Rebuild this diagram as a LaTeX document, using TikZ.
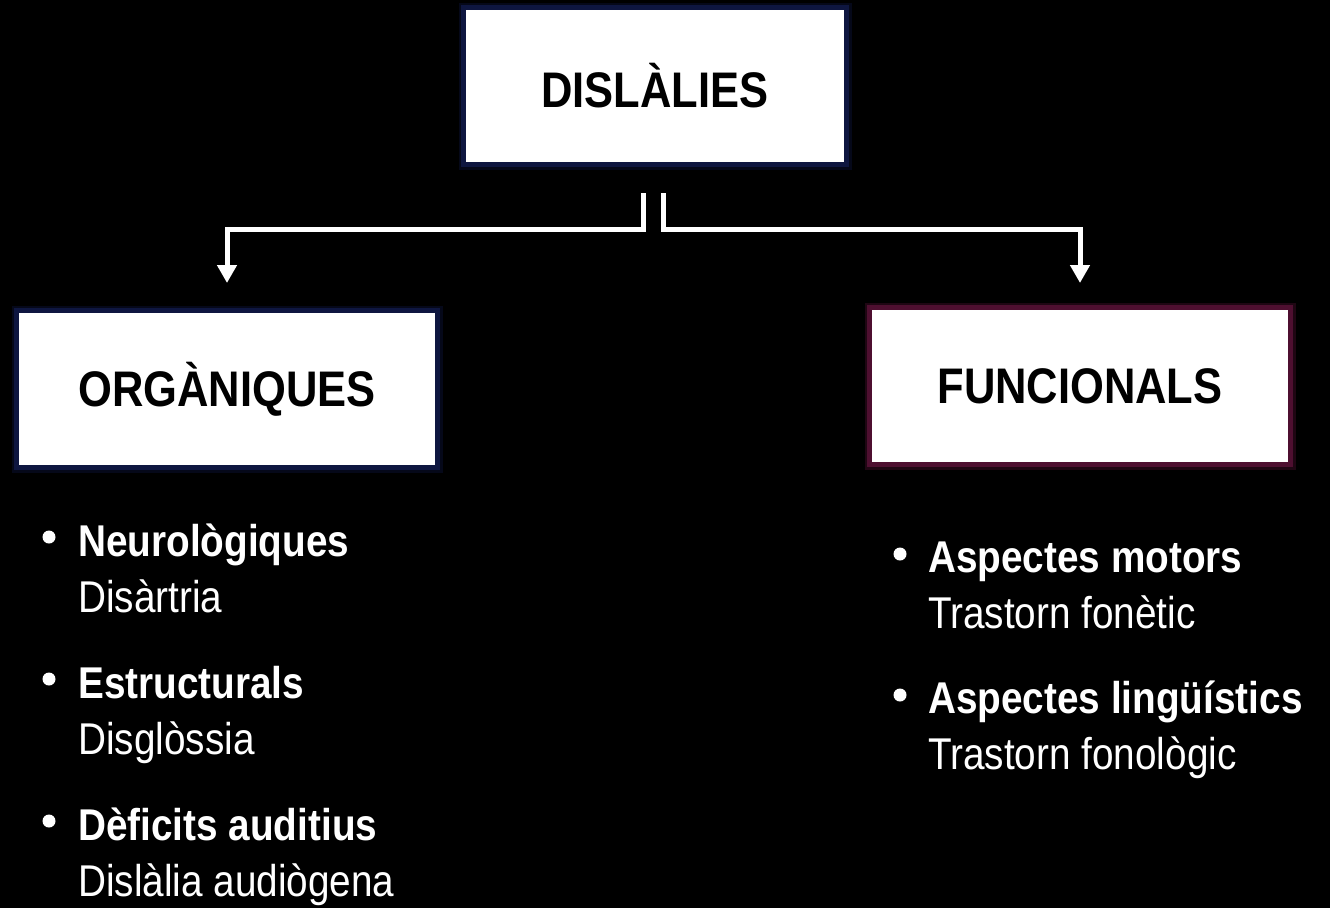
\documentclass[tikz,border=0pt]{standalone}
\usepackage{fontspec}
\setmainfont{Liberation Sans}[FakeStretch=0.87]
\usepackage{tikz}
\usetikzlibrary{positioning}
\usetikzlibrary{arrows.meta}
\definecolor{navyline}{HTML}{0E1640}
\definecolor{wineline}{HTML}{4E0F30}

\begin{document}
\begin{tikzpicture}[x=1pt, y=-1pt,
    box/.style={rectangle, fill=white, line width=5pt, outer sep=0pt, minimum width=421pt, minimum height=157pt, text=black, font=\fontsize{50}{60}\selectfont\bfseries},
    item/.style={align=left, inner sep=0pt, text=white, font=\fontsize{44.5}{56}\selectfont},
    dot/.style={circle, fill=white, inner sep=0pt, minimum size=13pt},
    link/.style={draw=white, line width=5pt, -{Triangle[width=19pt,length=18pt]}}]
    \fill[black] (0,0) rectangle (1330,908);
    % caixes
    \node[box, draw=navyline, minimum width=383pt, preaction={draw=navyline, line width=10pt, opacity=0.4}] (dislalies) at (655,86) {DISLÀLIES};
    \node[box, draw=navyline, preaction={draw=navyline, line width=10pt, opacity=0.4}] (organiques) at (227,389) {ORGÀNIQUES};
    \node[box, draw=wineline, preaction={draw=wineline, line width=10pt, opacity=0.4}] (funcionals) at (1080,386) {FUNCIONALS};
    \draw[link] ([xshift=-12pt,yshift=-28.5pt]dislalies.south) -- ++(0,36) -| ([yshift=27.5pt]organiques.north);
    \draw[link] ([xshift=8pt,yshift=-28.5pt]dislalies.south) -- ++(0,36) -| ([yshift=24.5pt]funcionals.north);
    % llista esquerra
    \node[item, anchor=base west] (neuro) at (78,612) {\textbf{Neurològiques}\\Disàrtria};
    \node[item, below=142pt of neuro.base west, anchor=base west] (estruct) {\textbf{Estructurals}\\Disglòssia};
    \node[item, below=142pt of estruct.base west, anchor=base west] (deficit) {\textbf{Dèficits auditius}\\Dislàlia audiògena};
    \node[dot] (dot_neuro) at ([xshift=-29pt,yshift=75pt]neuro.base west) {};
    \node[dot] (dot_estruct) at ([xshift=-29pt,yshift=75pt]estruct.base west) {};
    \node[dot] (dot_deficit) at ([xshift=-29pt,yshift=75pt]deficit.base west) {};
    % llista dreta
    \node[item, anchor=base west] (motors) at (928,628) {\textbf{Aspectes motors}\\Trastorn fonètic};
    \node[item, below=141pt of motors.base west, anchor=base west] (linguistics) {\textbf{Aspectes lingüístics}\\Trastorn fonològic};
    \node[dot] (dot_motors) at ([xshift=-28pt,yshift=74pt]motors.base west) {};
    \node[dot] (dot_linguistics) at ([xshift=-28pt,yshift=74pt]linguistics.base west) {};
\end{tikzpicture}
\end{document}
